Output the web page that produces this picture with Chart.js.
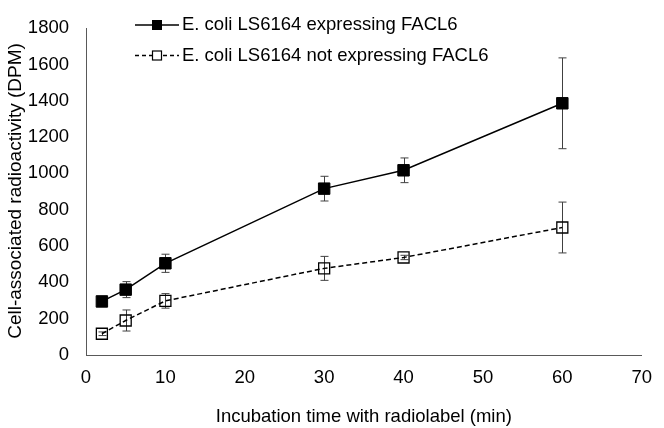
<!DOCTYPE html>
<html>
<head>
<meta charset="utf-8">
<script src="https://cdn.jsdelivr.net/npm/chart.js@4/dist/chart.umd.min.js"></script>
<style>
  html, body { margin: 0; padding: 0; background: #fff; }
  #chart { display: block; }
</style>
</head>
<body>
<canvas id="chart" width="664" height="428"></canvas>
<script>
// values
const times = [2, 5, 10, 30, 40, 60];
const expressing = [295, 360, 505, 916, 1017, 1386];
const expressingErr = [15, 44, 50, 68, 68, 250];
const notExpressing = [117, 190, 298, 477, 537, 702];
const notExpressingErr = [10, 58, 40, 66, 12, 140];
const seriesLabels = ['E. coli LS6164 expressing FACL6', 'E. coli LS6164 not expressing FACL6'];
const xRange = [0, 70, 10];
const yRange = [0, 1800, 200];
const yTitle = 'Cell-associated radioactivity (DPM)';

const FONT = '"Liberation Sans", Arial, sans-serif';
const axisColor = '#595959';

const toPoints = (vals) => times.map((t, i) => ({ x: t, y: vals[i] }));

// error bars, drawn under the markers
const errorBars = {
    id: 'errorBars',
    beforeDatasetsDraw(chart) {
        const { ctx, scales: { x, y } } = chart;
        ctx.save();
        ctx.strokeStyle = '#404040';
        ctx.lineWidth = 1;
        chart.data.datasets.forEach(ds => {
            ds.errors.forEach((e, i) => {
                const px = Math.round(x.getPixelForValue(ds.data[i].x)) + 0.5;
                const top = y.getPixelForValue(ds.data[i].y + e);
                const bot = y.getPixelForValue(ds.data[i].y - e);
                ctx.beginPath();
                ctx.moveTo(px, top); ctx.lineTo(px, bot);
                ctx.moveTo(px - 4, top); ctx.lineTo(px + 4, top);
                ctx.moveTo(px - 4, bot); ctx.lineTo(px + 4, bot);
                ctx.stroke();
            });
        });
        ctx.restore();
    }
};

// legend inside the plot (line + marker + text) and the y axis title
const insideLegend = {
    id: 'insideLegend',
    afterDraw(chart) {
        const { ctx } = chart;
        const rows = [
            { y: 25, dash: [], fill: true },
            { y: 55.5, dash: [4, 3], fill: false }
        ];
        ctx.save();
        rows.forEach((r, i) => {
            ctx.strokeStyle = '#000';
            ctx.lineWidth = 1.5;
            ctx.setLineDash(r.dash);
            ctx.beginPath();
            ctx.moveTo(135, r.y); ctx.lineTo(179, r.y);
            ctx.stroke();
            ctx.setLineDash([]);
            if (r.fill) {
                ctx.fillStyle = '#000';
                ctx.fillRect(152, r.y - 5, 10, 10);
            } else {
                ctx.fillStyle = '#fff';
                ctx.fillRect(152, r.y - 5, 10, 10);
                ctx.lineWidth = 1.2;
                ctx.strokeRect(152.5, r.y - 4.5, 9, 9);
            }
            ctx.fillStyle = '#000';
            ctx.font = '18.5px ' + FONT;
            ctx.textBaseline = 'middle';
            ctx.textAlign = 'left';
            ctx.fillText(seriesLabels[i], 182, r.y);
        });

        ctx.translate(16, 191);
        ctx.rotate(-Math.PI / 2);
        ctx.font = '19px ' + FONT;
        ctx.textAlign = 'center';
        ctx.textBaseline = 'middle';
        ctx.fillText(yTitle, 0, 0);
        ctx.restore();
    }
};

const ctx = document.getElementById('chart').getContext('2d');
new Chart(ctx, {
    type: 'line',
    data: {
        datasets: [
            {
                label: seriesLabels[0],
                data: toPoints(expressing),
                errors: expressingErr,
                borderColor: '#000',
                borderWidth: 1.5,
                pointStyle: 'rect',
                pointRadius: 8.1,
                pointBackgroundColor: '#000',
                pointBorderColor: '#000',
                pointBorderWidth: 1
            },
            {
                label: seriesLabels[1],
                data: toPoints(notExpressing),
                errors: notExpressingErr,
                borderColor: '#000',
                borderWidth: 1.5,
                borderDash: [5, 3],
                pointStyle: 'rect',
                pointRadius: 7.8,
                pointBackgroundColor: 'rgba(0,0,0,0)',
                pointBorderColor: '#000',
                pointBorderWidth: 1.3
            }
        ]
    },
    options: {
        responsive: false,
        animation: false,
        layout: { padding: { top: 13, right: 14, left: 0, bottom: 0 } },
        plugins: {
            legend: { display: false },
            tooltip: { enabled: false }
        },
        scales: {
            x: {
                type: 'linear',
                min: xRange[0], max: xRange[1],
                afterFit(scale) { scale.height = 73; },
                grid: { display: false, drawTicks: false },
                border: { color: axisColor, width: 1 },
                ticks: {
                    stepSize: xRange[2],
                    padding: 12,
                    color: '#000',
                    font: { family: FONT, size: 18.5 }
                },
                title: {
                    display: true,
                    text: 'Incubation time with radiolabel (min)',
                    color: '#000',
                    padding: { top: 0, bottom: 0 },
                    font: { family: FONT, size: 18.5, lineHeight: 1.2 }
                }
            },
            y: {
                min: yRange[0], max: yRange[1],
                afterFit(scale) { scale.width = 86; },
                grid: { display: false, drawTicks: false },
                border: { color: axisColor, width: 1 },
                ticks: {
                    stepSize: yRange[2],
                    padding: 17,
                    color: '#000',
                    font: { family: FONT, size: 18.5 },
                    callback: (v) => String(v)
                }
            }
        }
    },
    plugins: [errorBars, insideLegend]
});
</script>
</body>
</html>
